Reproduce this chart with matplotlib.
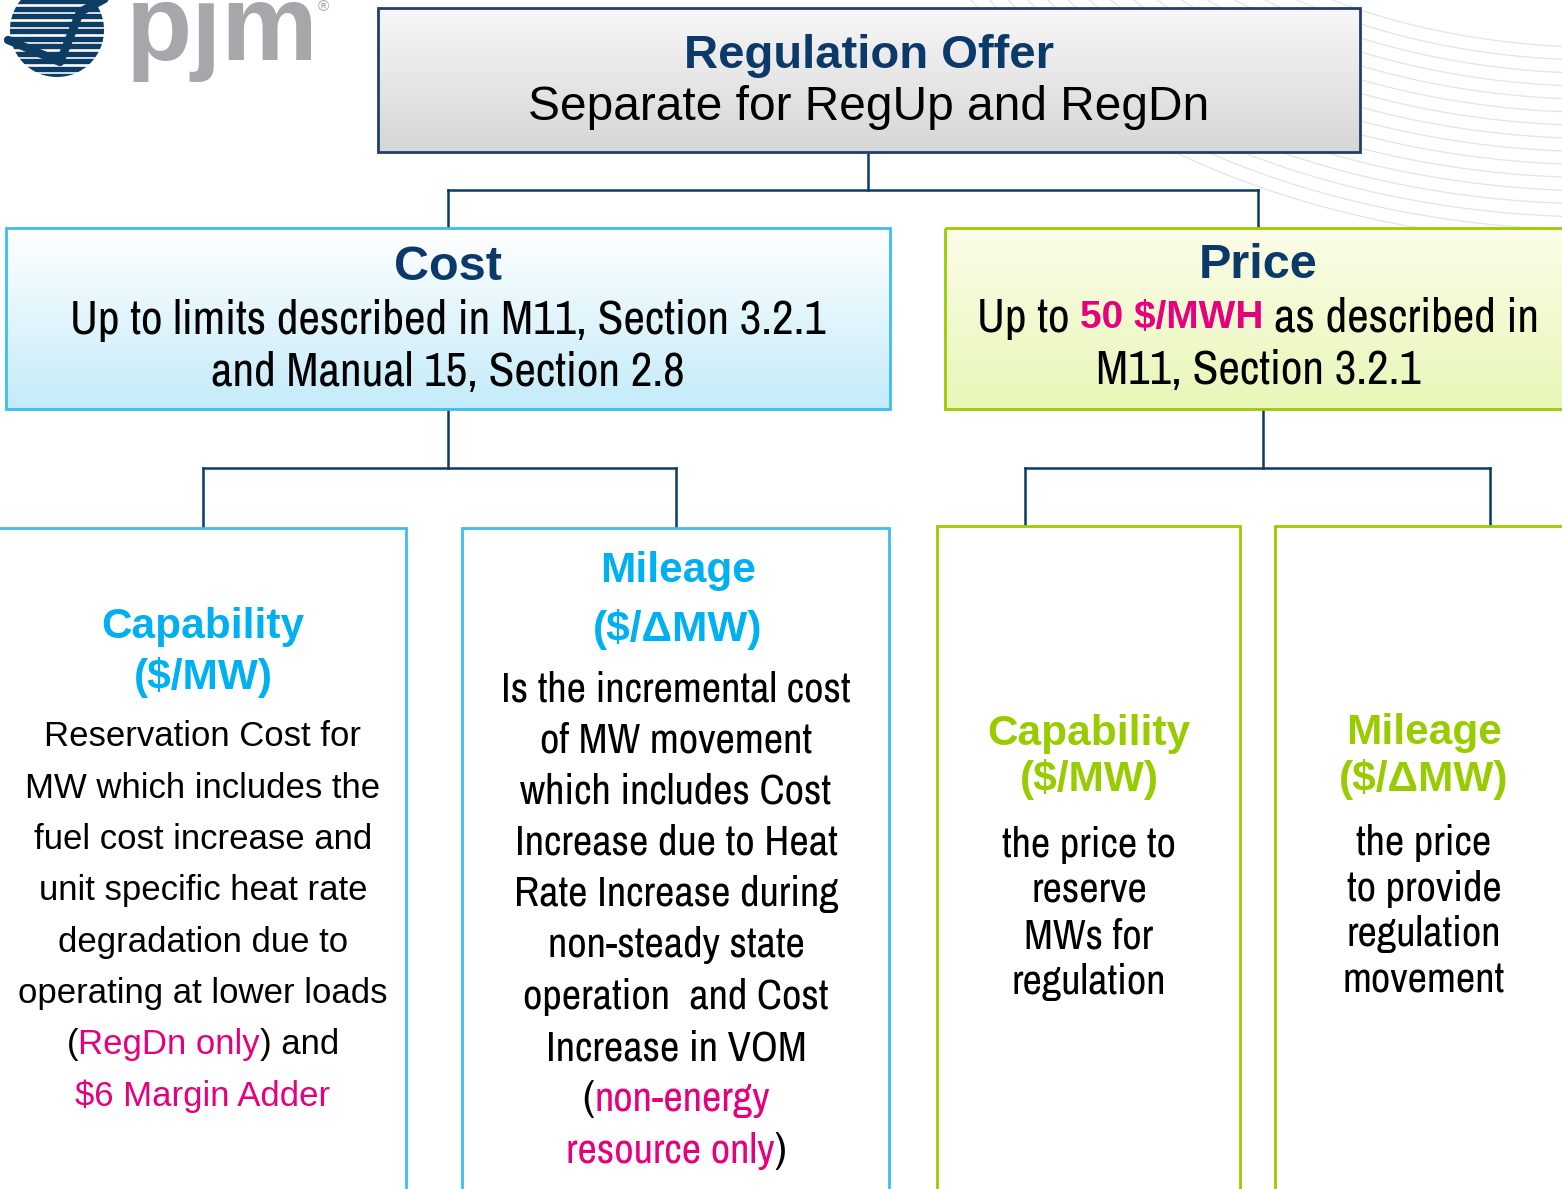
import numpy as np
import matplotlib
matplotlib.use("Agg")
from matplotlib import pyplot as plt
import matplotlib.patches as patches

W, H = 1562, 1189

NAVY = '#0b3a6a'
CYAN = '#00b0f0'
GREEN = '#99cc00'
PINK = '#e6007e'
BLACK = '#000000'

WIDE = ['Liberation Sans', 'DejaVu Sans']
NARROW = ['Archivo Narrow', 'Liberation Sans Narrow', 'Liberation Sans', 'DejaVu Sans']

# header box
top_title = "Regulation Offer"
top_sub = "Separate for RegUp and RegDn"

# second level
cost_title = "Cost"
cost_lines = [[("Up to limits described in M11, Section 3.2.1", BLACK, False)],
              [("and Manual 15, Section 2.8", BLACK, False)]]
price_title = "Price"
price_lines = [[("Up to", BLACK, False), ("50 $/MWH", PINK, True), ("as described in", BLACK, False)],
               [("M11, Section 3.2.1", BLACK, False)]]

# third level
cap_cost_head = ["Capability", "($/MW)"]
cap_cost_body = [[("Reservation Cost for", BLACK, False)],
                 [("MW which includes the", BLACK, False)],
                 [("fuel cost increase and", BLACK, False)],
                 [("unit specific heat rate", BLACK, False)],
                 [("degradation due to", BLACK, False)],
                 [("operating at lower loads", BLACK, False)],
                 [("(", BLACK, False), ("RegDn only", PINK, False), (") and", BLACK, False)],
                 [("$6 Margin Adder", PINK, False)]]
mil_cost_head = ["Mileage", "($/\u0394MW)"]
mil_cost_body = [[("Is the incremental cost", BLACK, False)],
                 [("of MW movement", BLACK, False)],
                 [("which includes Cost", BLACK, False)],
                 [("Increase due to Heat", BLACK, False)],
                 [("Rate Increase during", BLACK, False)],
                 [("non-steady state", BLACK, False)],
                 [("operation  and Cost", BLACK, False)],
                 [("Increase in VOM", BLACK, False)],
                 [("(", BLACK, False), ("non-energy", PINK, False)],
                 [("resource only", PINK, False), (")", BLACK, False)]]
cap_price_head = ["Capability", "($/MW)"]
cap_price_body = ["the price to", "reserve", "MWs for", "regulation"]
mil_price_head = ["Mileage", "($/\u0394MW)"]
mil_price_body = ["the price", "to provide", "regulation", "movement"]

fig = plt.figure(figsize=(W / 100, H / 100), dpi=100)
ax = fig.add_axes([0, 0, 1, 1])
ax.set_xlim(0, W)
ax.set_ylim(H, 0)
ax.axis('off')
renderer = fig.canvas.get_renderer()


def grad_box(x0, y0, x1, y1, c_top, c_bot, edge, lw=2):
    a = np.array(matplotlib.colors.to_rgb(c_top))
    b = np.array(matplotlib.colors.to_rgb(c_bot))
    t = np.linspace(0, 1, 64)[:, None]
    img = (a * (1 - t) + b * t)[:, None, :]
    ax.imshow(img, extent=(x0, x1, y1, y0), aspect='auto', zorder=1, interpolation='bilinear')
    ax.add_patch(patches.Rectangle((x0, y0), x1 - x0, y1 - y0, fill=False,
                                   edgecolor=edge, linewidth=lw, zorder=2))


def plain_box(x0, y0, x1, y1, edge, lw=2):
    ax.add_patch(patches.Rectangle((x0, y0), x1 - x0, y1 - y0, facecolor='white',
                                   edgecolor=edge, linewidth=lw, zorder=1))


def seg_line(cx, y, segs, size, family, bold_size=None):
    # centred line made of coloured pieces, single spaces between pieces
    arts, widths = [], []
    for txt, col, bold in segs:
        if bold:
            t = ax.text(0, y, txt, fontsize=bold_size or size, family=WIDE, color=col,
                        fontweight='bold', ha='left', va='center', zorder=5)
        else:
            t = ax.text(0, y, txt, fontsize=size, family=family, color=col,
                        ha='left', va='center', zorder=5)
        arts.append(t)
        widths.append(t.get_window_extent(renderer).width)
    probe1 = ax.text(0, 0, "x x", fontsize=size, family=family)
    probe2 = ax.text(0, 0, "xx", fontsize=size, family=family)
    sp = probe1.get_window_extent(renderer).width - probe2.get_window_extent(renderer).width
    probe1.remove()
    probe2.remove()
    gaps = []
    for i in range(len(segs) - 1):
        a, b = segs[i][0], segs[i + 1][0]
        gaps.append(0 if a.endswith('(') or b.startswith(')') else sp)
    total = sum(widths) + sum(gaps)
    x = cx - total / 2
    for i, t in enumerate(arts):
        t.set_x(x)
        x += widths[i] + (gaps[i] if i < len(gaps) else 0)


def heading(cx, ys, lines, color, size=30.5):
    for y, txt in zip(ys, lines):
        ax.text(cx, y, txt, fontsize=size, fontweight='bold', family=WIDE, color=color,
                ha='center', va='center', zorder=5)


def connector(xtop, ytop, ymid, xs, ybot):
    ax.plot([xtop, xtop], [ytop, ymid], color=NAVY, lw=1.8, zorder=0)
    ax.plot([min(xs), max(xs)], [ymid, ymid], color=NAVY, lw=1.8, zorder=0)
    for x, yb in zip(xs, ybot):
        ax.plot([x, x], [ymid, yb], color=NAVY, lw=1.8, zorder=0)


# faint background swirl, top right
for k in range(16):
    th = np.linspace(0.1, 1.6, 200)
    r = 560 + k * 13
    ax.plot(1600 - r * np.cos(th) * 0.95, -300 + r * np.sin(th) * 0.62 + k * 5,
            color='#e4e4e4', lw=0.9, zorder=0)

# logo
disk = patches.Circle((57, 30), 47, transform=ax.transData)
for yy in np.arange(-16, 80, 7.5):
    bar = patches.Rectangle((5, yy), 106, 4.4, color='#0e3d63', zorder=3)
    bar.set_clip_path(disk)
    ax.add_patch(bar)
ax.plot([8, 32, 60, 80, 112], [40, 50, 62, 12, -5], color='#0e3d63', lw=6, zorder=3,
        solid_capstyle='round')
ax.text(126, 60, "pjm", fontsize=78, fontweight='bold', family=WIDE, color='#a5a7aa',
        ha='left', va='baseline', zorder=3)
ax.text(318, 7, "\u00ae", fontsize=11, family=WIDE, color='#a5a7aa', ha='left', va='center', zorder=3)

# connectors
connector(868, 152, 190, [448, 1258], [228, 228])
connector(448, 409, 468, [203, 676], [528, 528])
connector(1263, 409, 468, [1025, 1490], [526, 526])

# header
grad_box(378, 8, 1360, 152, '#f7f7f7', '#d6d6d6', '#1f3f6a')
ax.text(869, 56, top_title, fontsize=34, fontweight='bold', family=WIDE, color=NAVY,
        ha='center', va='center', zorder=5)
ax.text(869, 108, top_sub, fontsize=34.5, family=WIDE, color=BLACK, ha='center', va='center', zorder=5)

# cost / price
grad_box(6, 228, 890, 409, '#ffffff', '#c4ebfa', '#3cbdf0')
ax.text(448, 268, cost_title, fontsize=35, fontweight='bold', family=WIDE, color=NAVY,
        ha='center', va='center', zorder=5)
for i, segs in enumerate(cost_lines):
    seg_line(448, 320 + 52 * i, segs, 34, NARROW)

grad_box(945, 228, 1575, 409, '#fbfde8', '#e8f7b8', GREEN)
ax.text(1258, 266, price_title, fontsize=35, fontweight='bold', family=WIDE, color=NAVY,
        ha='center', va='center', zorder=5)
for i, segs in enumerate(price_lines):
    seg_line(1258, 318 + 52 * i, segs, 34, NARROW, bold_size=28)

# bottom row
plain_box(-5, 528, 406, 1200, '#3cbdf0')
plain_box(462, 528, 889, 1200, '#3cbdf0')
plain_box(937, 526, 1240, 1200, GREEN)
plain_box(1275, 526, 1575, 1200, GREEN)

heading(203, [627, 678], cap_cost_head, CYAN)
for i, segs in enumerate(cap_cost_body):
    seg_line(203, 737 + 51.3 * i, segs, 25, WIDE)

heading(678, [571, 630], mil_cost_head, CYAN)
for i, segs in enumerate(mil_cost_body):
    seg_line(676, 689 + 51.3 * i, segs, 30.5, NARROW)

heading(1089, [734, 779], cap_price_head, GREEN)
for i, txt in enumerate(cap_price_body):
    ax.text(1089, 845 + 45.7 * i, txt, fontsize=30.5, family=NARROW, color=BLACK,
            ha='center', va='center', zorder=5)

heading(1424, [733, 779], mil_price_head, GREEN)
for i, txt in enumerate(mil_price_body):
    ax.text(1424, 843 + 45.7 * i, txt, fontsize=30.5, family=NARROW, color=BLACK,
            ha='center', va='center', zorder=5)

fig.savefig("out.png", dpi=100)
